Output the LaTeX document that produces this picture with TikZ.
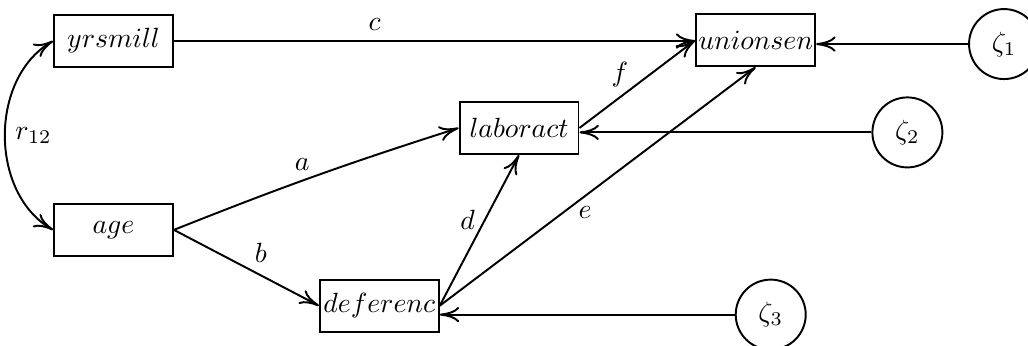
\documentclass[tikz,border=0pt]{standalone}
\usetikzlibrary{arrows.meta,positioning}

\begin{document}
\begin{tikzpicture}[
  x=0.36pt,y=-0.36pt,
  node distance=8pt and 40pt,
  var/.style={draw,rectangle,line width=0.7pt,inner sep=0pt,
    minimum width=42.8pt,minimum height=18.7pt},
  err/.style={draw,circle,line width=0.7pt,inner sep=0pt,minimum size=25.2pt},
  effect/.style={-{To[length=7pt,width=5.5pt]},line width=0.7pt},
  corr/.style={{To[length=7pt,width=5.5pt]}-{To[length=7pt,width=5.5pt]},
    line width=0.7pt}
]
\useasboundingbox (0,0) rectangle (1028,345);
\node[var] (yrsmill) at (113.5,41) {$yrsmill$};
\node[var,below=48.6pt of yrsmill] (age) {$age$};
\node[var,below right=7.9pt and 52.2pt of age] (deferenc) {$deferenc$};
\node[var,above right=44.6pt and 6.8pt of deferenc] (laboract) {$laboract$};
\node[var,above right=12.2pt and 41.7pt of laboract] (unionsen) {$unionsen$};

\node[err,right=54.7pt of unionsen,yshift=-1.4pt] (zeta1) {$\zeta_1$};
\node[err,right=105.1pt of laboract,yshift=-1.6pt] (zeta2) {$\zeta_2$};
\node[err,right=106.2pt of deferenc,yshift=-3.2pt] (zeta3) {$\zeta_3$};

% paths
\draw[corr] (yrsmill.west) to[bend right=60] node[right] {$r_{12}$} (age.west);
\draw[effect] (yrsmill) -- node[pos=.385,above] {$c$} (yrsmill -| unionsen.west);
\draw[effect] (age.east) to[bend left=2] node[pos=.45,above] {$a$} (laboract.west);
\draw[effect] (age.east) -- node[pos=.6,above=1pt] {$b$} (deferenc.west);
\draw[effect] (deferenc.east) -- node[pos=.57,left] {$d$} (laboract.south);
\draw[effect] (deferenc.east) -- node[pos=.46,below] {$e$} (unionsen.south);
\draw[effect] (laboract.east) -- node[pos=.35,above] {$f$} (unionsen.west);

% disturbances
\draw[effect] (zeta1) -- (zeta1 -| unionsen.east);
\draw[effect] (zeta2) -- (zeta2 -| laboract.east);
\draw[effect] (zeta3) -- (zeta3 -| deferenc.east);
\end{tikzpicture}
\end{document}
